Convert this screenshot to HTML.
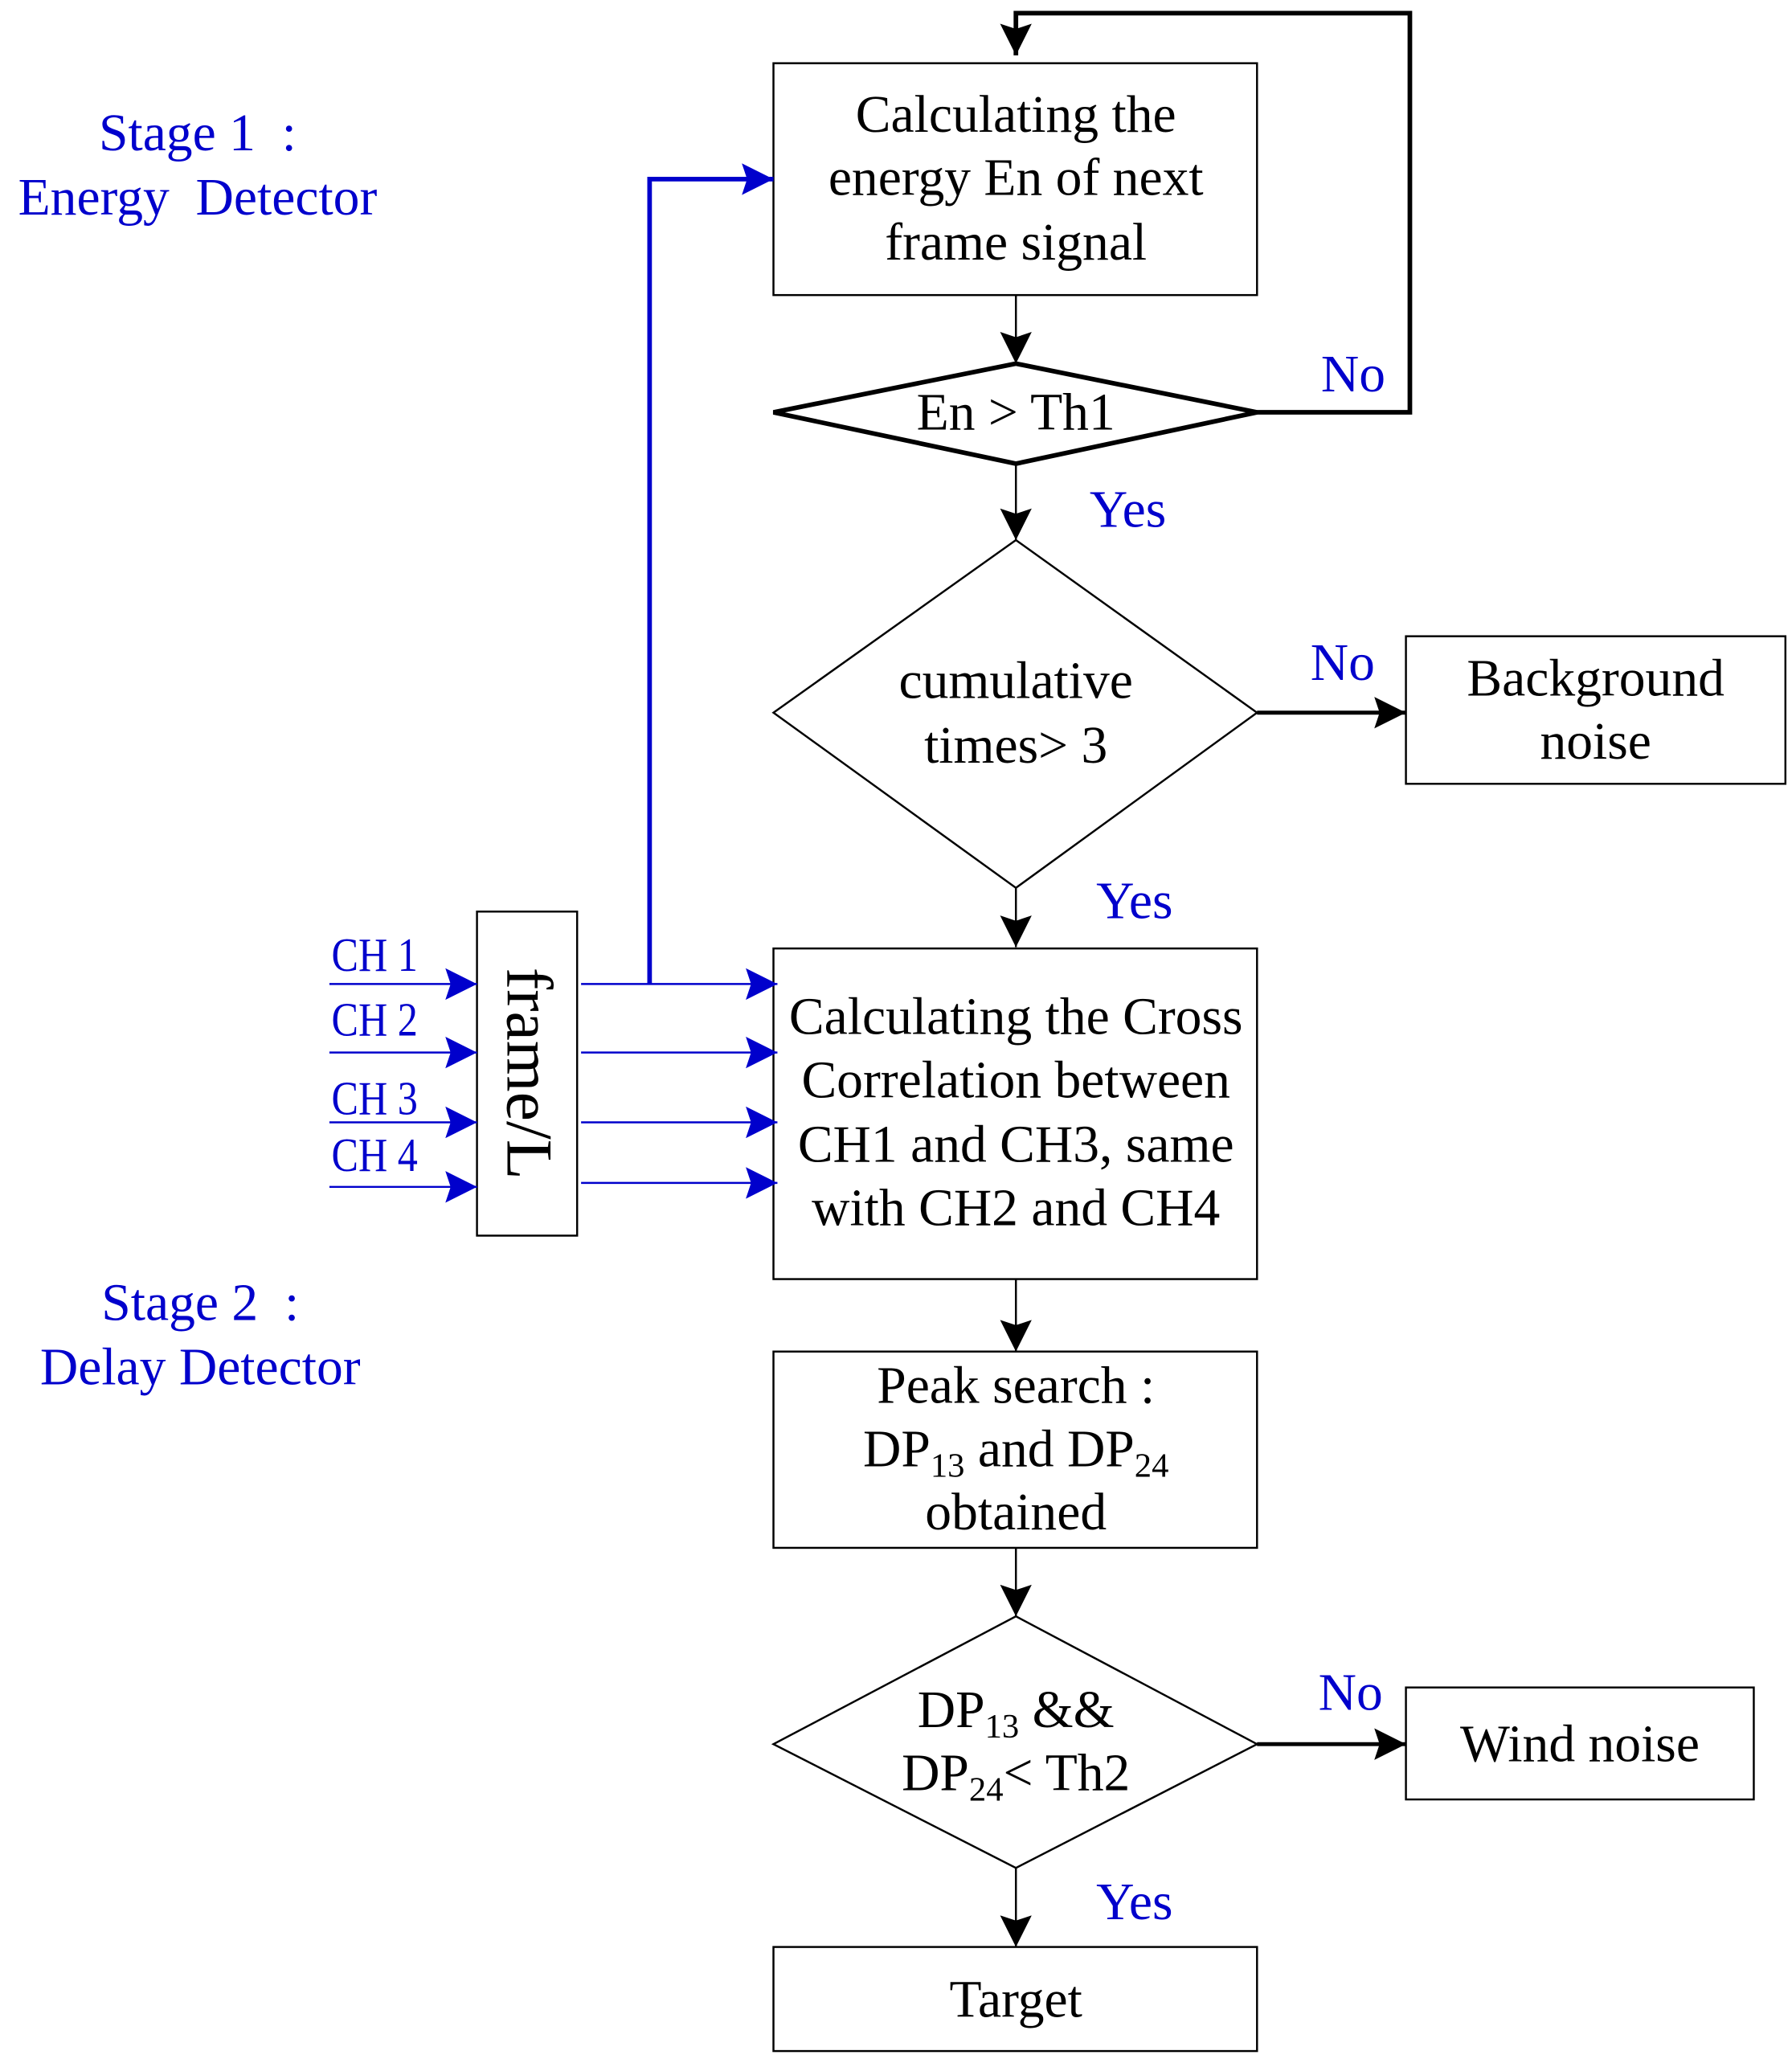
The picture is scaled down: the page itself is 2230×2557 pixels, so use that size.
<!DOCTYPE html>
<html><head><style>
html,body{margin:0;padding:0;background:#fff;}
svg{display:block;}
text{font-family:"Liberation Serif",serif;}
</style></head><body>
<svg width="2230" height="2557" viewBox="0 0 1360 1560" preserveAspectRatio="none" xmlns="http://www.w3.org/2000/svg">
<defs>
<marker id="akb" markerWidth="24" markerHeight="24" refX="24" refY="12" orient="auto" markerUnits="userSpaceOnUse"><path d="M0,0 L24,12 L0,24 L4,12z" fill="#000"/></marker>
<marker id="ab" markerWidth="24" markerHeight="24" refX="24" refY="12" orient="auto" markerUnits="userSpaceOnUse"><path d="M0,0 L24,12 L0,24 L4,12z" fill="#0000cc"/></marker>
</defs>
<g fill="none" stroke="#000" stroke-width="1.5">
<rect x="587" y="48" width="367" height="176"/>
<rect x="1067" y="483" width="288" height="112"/>
<rect x="587" y="720" width="367" height="251"/>
<rect x="587" y="1026" width="367" height="149"/>
<rect x="1067" y="1281" width="264" height="85"/>
<rect x="587" y="1478" width="367" height="79"/>
<rect x="362" y="692" width="76" height="246"/>
<polygon points="587,541 771,410 954,541 771,674"/>
<polygon points="587,1324 771,1227 954,1324 771,1418"/>
<polygon points="587,313 771,276 954,313 771,352" stroke-width="3.5"/>
<line x1="771" y1="224" x2="771" y2="276" marker-end="url(#akb)"/>
<line x1="771" y1="352" x2="771" y2="410" marker-end="url(#akb)"/>
<line x1="771" y1="674" x2="771" y2="719" marker-end="url(#akb)"/>
<line x1="771" y1="971" x2="771" y2="1026" marker-end="url(#akb)"/>
<line x1="771" y1="1175" x2="771" y2="1227" marker-end="url(#akb)"/>
<line x1="771" y1="1418" x2="771" y2="1478" marker-end="url(#akb)"/>
<line x1="954" y1="541" x2="1067" y2="541" stroke-width="3" marker-end="url(#akb)"/>
<line x1="954" y1="1324" x2="1067" y2="1324" stroke-width="3" marker-end="url(#akb)"/>
<polyline points="954,313 1070,313 1070,10 771,10 771,42" stroke-width="3.5" marker-end="url(#akb)"/>
</g>
<g fill="none" stroke="#0000cc" stroke-width="1.5">
<line x1="250" y1="747" x2="362" y2="747" marker-end="url(#ab)"/>
<line x1="250" y1="799" x2="362" y2="799" marker-end="url(#ab)"/>
<line x1="250" y1="852" x2="362" y2="852" marker-end="url(#ab)"/>
<line x1="250" y1="901" x2="362" y2="901" marker-end="url(#ab)"/>
<line x1="441" y1="747" x2="590" y2="747" marker-end="url(#ab)"/>
<line x1="441" y1="799" x2="590" y2="799" marker-end="url(#ab)"/>
<line x1="441" y1="852" x2="590" y2="852" marker-end="url(#ab)"/>
<line x1="441" y1="898" x2="590" y2="898" marker-end="url(#ab)"/>
<polyline points="493,747 493,136 587,136" stroke-width="3.5" marker-end="url(#ab)"/>
</g>
<g font-size="40" fill="#000" text-anchor="middle">
<text x="771" y="100">Calculating the</text>
<text x="771" y="148">energy En of next</text>
<text x="771" y="197">frame signal</text>
<text x="771" y="326">En &gt; Th1</text>
<text x="771" y="530">cumulative</text>
<text x="771" y="579">times&gt; 3</text>
<text x="1211" y="528">Background</text>
<text x="1211" y="576">noise</text>
<text x="771" y="785">Calculating the Cross</text>
<text x="771" y="833">Correlation between</text>
<text x="771" y="882">CH1 and CH3, same</text>
<text x="771" y="930">with CH2 and CH4</text>
<text x="771" y="1065">Peak search  :</text>
<text x="771" y="1113">DP<tspan font-size="26" dy="8">13</tspan><tspan dy="-8"> and DP</tspan><tspan font-size="26" dy="8">24</tspan></text>
<text x="771" y="1161">obtained</text>
<text x="771" y="1311">DP<tspan font-size="26" dy="8">13</tspan><tspan dy="-8"> &amp;&amp;</tspan></text>
<text x="771" y="1359">DP<tspan font-size="26" dy="8">24</tspan><tspan dy="-8">&lt; Th2</tspan></text>
<text x="1199" y="1337">Wind noise</text>
<text x="771" y="1531">Target</text>
<text transform="translate(385,815) rotate(90)" font-size="50">frame/L</text>
</g>
<g font-size="40" fill="#0000cc">
<text x="1027" y="297" text-anchor="middle">No</text>
<text x="856" y="400" text-anchor="middle">Yes</text>
<text x="1019" y="516" text-anchor="middle">No</text>
<text x="861" y="697" text-anchor="middle">Yes</text>
<text x="1025" y="1298" text-anchor="middle">No</text>
<text x="861" y="1457" text-anchor="middle">Yes</text>
<text x="150" y="114" text-anchor="middle" xml:space="preserve">Stage 1  :</text>
<text x="150" y="163" text-anchor="middle" xml:space="preserve">Energy  Detector</text>
<text x="152" y="1002" text-anchor="middle" xml:space="preserve">Stage 2  :</text>
<text x="152" y="1051" text-anchor="middle">Delay Detector</text>
<g font-size="36" transform="scale(0.85,1)" xml:space="preserve">
<text x="296" y="737">CH  1</text>
<text x="296" y="786">CH  2</text>
<text x="296" y="846">CH  3</text>
<text x="296" y="889">CH  4</text>
</g>
</g>
</svg>
</body></html>
